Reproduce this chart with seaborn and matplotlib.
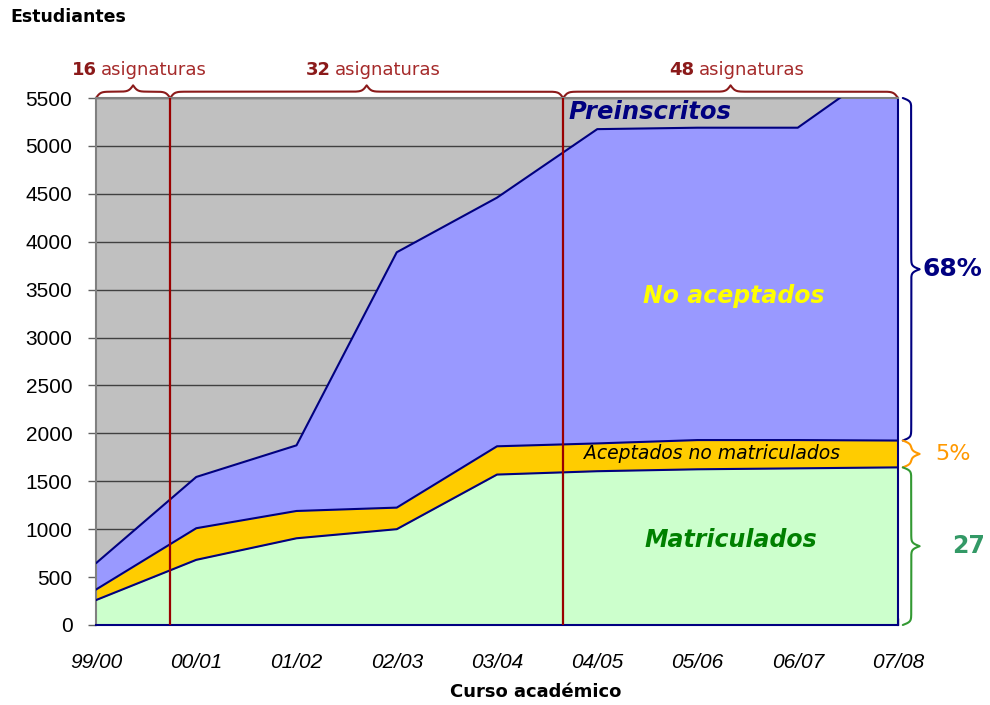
import numpy as np
import matplotlib
matplotlib.use('Agg')
import matplotlib.pyplot as plt
import matplotlib.transforms as mtrans
import seaborn as sns

# Datos
cursos = ['99/00', '00/01', '01/02', '02/03', '03/04', '04/05', '05/06', '06/07', '07/08']
matriculados = [260, 680, 905, 1000, 1570, 1605, 1625, 1635, 1645]
aceptados_no_matr = [110, 330, 285, 225, 295, 290, 305, 295, 280]
no_aceptados = [275, 535, 685, 2665, 2595, 3280, 3260, 3260, 4005]

# Periodos (numero de asignaturas) y separadores entre cursos
asignaturas = ['16', '32', '48']
separadores = [0.74, 4.66]
porcentajes = ['68%', '5%', '27']

NAVY = '#000080'
RED = '#8B1A1A'

sns.set_style('white')
plt.rcParams['font.family'] = ['DejaVu Sans']
plt.rcParams['text.color'] = 'black'

x = np.arange(len(cursos))
y1 = np.array(matriculados)
y2 = y1 + np.array(aceptados_no_matr)
y3 = y2 + np.array(no_aceptados)

fig = plt.figure(figsize=(9.9, 7.05), dpi=100)
ax = fig.add_axes([96 / 990, 1 - 625 / 705, 802 / 990, 527 / 705])
ax.set_facecolor('#C0C0C0')

ax.fill_between(x, 0, y1, color='#CCFFCC', lw=0)
ax.fill_between(x, y1, y2, color='#FFCC00', lw=0)
ax.fill_between(x, y2, y3, color='#9999FF', lw=0)
for serie in (y1, y2, y3):
    sns.lineplot(x=x, y=serie, color=NAVY, lw=1.5, ax=ax, zorder=3)

ax.set_xlim(0, len(cursos) - 1)
ax.set_ylim(0, 5500)
ax.set_yticks(np.arange(0, 5501, 500))
ax.set_xticks(x)
ax.set_xticklabels(cursos, fontstyle='italic', family='Liberation Sans', fontsize=15)
for lab in ax.get_yticklabels():
    lab.set_family('Liberation Sans')
    lab.set_fontsize(15)
ax.tick_params(axis='y', direction='out', length=6, width=1, color='#606060', pad=11, left=True,
               labelcolor='black')
ax.tick_params(axis='x', direction='in', length=5, width=1, color='#404040', pad=20, bottom=True,
               labelcolor='black')
ax.yaxis.grid(True, color='#404040', lw=1)
ax.set_axisbelow(True)
ax.set_xlabel('')
ax.set_ylabel('')

for side, col in [('left', '#808080'), ('top', '#808080'), ('bottom', NAVY), ('right', NAVY)]:
    ax.spines[side].set_color(col)
    ax.spines[side].set_linewidth(1.5)

# Separadores verticales
for s in separadores:
    ax.axvline(s, color='#990000', lw=1.6, zorder=4)


def llave(a, b, h, beta, n=401):
    t = np.linspace(a, b, n)
    half = t[: n // 2 + 1]
    yh = 1 / (1 + np.exp(-beta * (half - half[0]))) + 1 / (1 + np.exp(-beta * (half - half[-1])))
    y = np.concatenate([yh, yh[-2::-1]])
    return t, (y - 0.5) * h


# Llaves superiores
trans_top = mtrans.blended_transform_factory(ax.transData, ax.transAxes)
limites = [0] + separadores + [len(cursos) - 1]
for i, num in enumerate(asignaturas):
    a, b = limites[i], limites[i + 1]
    t, v = llave(a, b, 0.024, 45)
    ax.plot(t, 1.0 + v, color=RED, lw=1.5, transform=trans_top, clip_on=False)
    c = (a + b) / 2
    ax.annotate(num, (c, 1.053), xycoords=trans_top, xytext=(-36, 0), textcoords='offset pixels',
                ha='right', va='center', fontsize=13, fontweight='bold', color=RED)
    ax.annotate('asignaturas', (c, 1.053), xycoords=trans_top, xytext=(-32, 0), textcoords='offset pixels',
                ha='left', va='center', fontsize=13, color='#A52A2A')

# Llaves derechas
trans_right = mtrans.blended_transform_factory(ax.transAxes, ax.transData)
tramos = [(y2[-1], 5500, NAVY), (y1[-1], y2[-1], '#FF9900'), (0, y1[-1], '#339933')]
estilos = [dict(color=NAVY, fontsize=18, fontweight='bold', dx=0.030),
           dict(color='#FF9900', fontsize=16, fontweight='normal', dx=0.047),
           dict(color='#339966', fontsize=17, fontweight='bold', dx=0.067)]
for (a, b, col), txt, st in zip(tramos, porcentajes, estilos):
    t, v = llave(a, b, 0.021, 0.06)
    ax.plot(1.006 + v, t, color=col, lw=1.5, transform=trans_right, clip_on=False)
    ax.text(1.0 + st['dx'], (a + b) / 2, txt, transform=trans_right, ha='left', va='center',
            color=st['color'], fontsize=st['fontsize'], fontweight=st['fontweight'], clip_on=False)

# Etiquetas de las areas
ax.text(5.53, 5350, 'Preinscritos', color=NAVY, fontsize=17.5, fontweight='bold', fontstyle='italic',
        ha='center', va='center', zorder=5)
ax.text(6.36, 3430, 'No aceptados', color='#FFFF00', fontsize=17, fontweight='bold', fontstyle='italic',
        ha='center', va='center', zorder=5)
ax.text(6.14, 1790, 'Aceptados no matriculados', color='black', fontsize=13.5, fontstyle='italic',
        ha='center', va='center', zorder=5)
ax.text(6.33, 890, 'Matriculados', color='#008000', fontsize=17, fontweight='bold', fontstyle='italic',
        ha='center', va='center', zorder=5)

fig.text(10 / 990, 1 - 17 / 705, 'Estudiantes', fontsize=12.5, fontweight='bold', ha='left', va='center')
fig.text(536 / 990, 1 - 692 / 705, 'Curso académico', fontsize=13, fontweight='bold', ha='center', va='center')

fig.savefig('out.png', dpi=100)
